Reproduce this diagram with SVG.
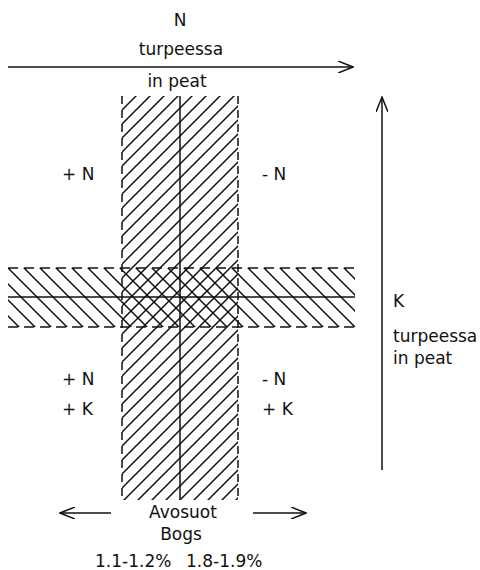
<svg xmlns="http://www.w3.org/2000/svg" width="480" height="570" viewBox="0 0 480 570">
<style>
text{font-family:"DejaVu Sans","Liberation Sans",sans-serif;fill:#111;font-size:17px}
.c{text-anchor:middle}
.ln{stroke:#111;stroke-width:1.5;fill:none}
.dv{stroke:#111;stroke-width:1.5;fill:none;stroke-dasharray:8 6}
.dh{stroke:#111;stroke-width:1.5;fill:none;stroke-dasharray:10 6}
.ar{stroke:#111;stroke-width:1.5;fill:none;marker-end:url(#ah)}
</style>
<defs>
<marker id="ah" markerWidth="16" markerHeight="12" refX="15" refY="6" orient="auto" markerUnits="userSpaceOnUse">
<path d="M0,0 L15,6 L0,12" fill="none" stroke="#111" stroke-width="1.5"/>
</marker>
<pattern id="fw" patternUnits="userSpaceOnUse" width="14" height="14" x="122" y="96">
<path d="M0,14 L14,0 M-2,2 L2,-2 M12,16 L16,12" stroke="#111" stroke-width="1.5"/>
</pattern>
<pattern id="bw" patternUnits="userSpaceOnUse" width="16" height="16" x="8" y="268">
<path d="M0,0 L16,16 M-2,14 L2,18 M14,-2 L18,2" stroke="#111" stroke-width="1.5"/>
</pattern>
</defs>
<g id="vertical-band">
<rect x="122" y="96" width="116" height="404" fill="url(#fw)"/>
<line class="dv" x1="122" y1="96" x2="122" y2="500"/>
<line class="dv" x1="238" y1="96" x2="238" y2="500"/>
<line class="ln" x1="180" y1="96" x2="180" y2="500"/>
</g>
<g id="horizontal-band">
<rect x="8" y="268" width="347" height="59" fill="url(#bw)"/>
<line class="dh" x1="8" y1="268" x2="355" y2="268"/>
<line class="dh" x1="8" y1="327" x2="355" y2="327"/>
<line class="ln" x1="8" y1="297" x2="355" y2="297"/>
</g>
<g id="connectors">
<line class="ar" x1="8" y1="67" x2="353" y2="67"/>
<line class="ar" x1="382" y1="470" x2="382" y2="97"/>
<line class="ar" x1="111" y1="513" x2="60" y2="513"/>
<line class="ar" x1="253" y1="513" x2="306" y2="513"/>
</g>
<g id="n-axis-label">
<text class="c" x="180" y="26">N</text>
<text class="c" x="181" y="55">turpeessa</text>
<text class="c" x="177" y="87">in peat</text>
</g>
<g id="k-axis-label">
<text x="393" y="307">K</text>
<text x="393" y="342">turpeessa</text>
<text x="393" y="364">in peat</text>
</g>
<g id="quadrant-labels">
<text x="62" y="180">+ N</text>
<text x="262" y="180">- N</text>
<text x="62" y="385">+ N</text>
<text x="62" y="415">+ K</text>
<text x="262" y="385">- N</text>
<text x="262" y="415">+ K</text>
</g>
<g id="bogs-label">
<text class="c" x="183" y="518">Avosuot</text>
<text class="c" x="181" y="540">Bogs</text>
<text x="95" y="567">1.1-1.2%</text>
<text x="186" y="567">1.8-1.9%</text>
</g>
</svg>
